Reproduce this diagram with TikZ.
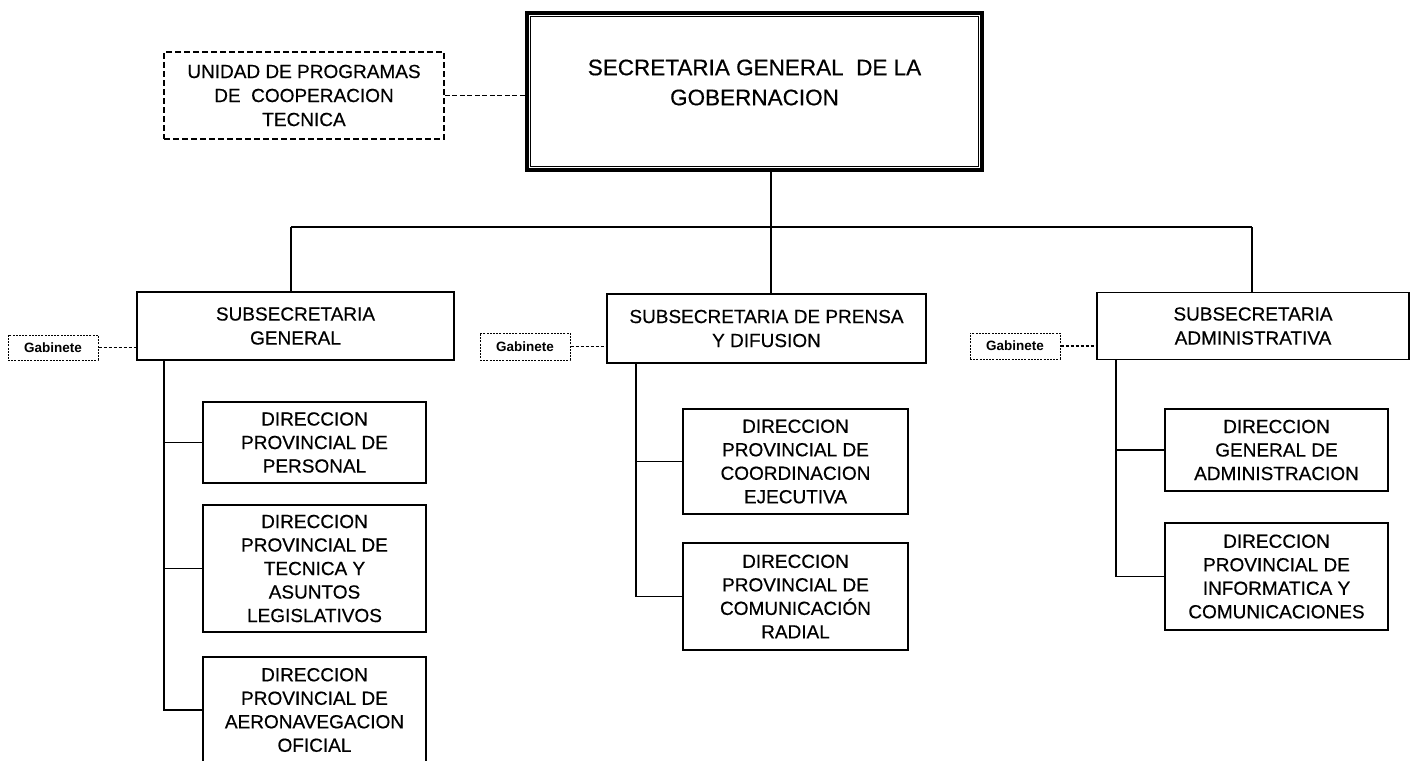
\documentclass[tikz,border=0pt]{standalone}
\usepackage{fontspec}
\setmainfont{Liberation Sans}
\newfontfamily\scanfont{Liberation Sans}[FakeBold=0.45]
\begin{document}
\begin{tikzpicture}[x=1pt,y=-1pt,
  basebox/.style={draw, line width=1.6pt, align=center, inner sep=0pt, anchor=center},
  topbox/.style={basebox, line width=3.6pt, minimum width=455pt, minimum height=157pt},
  toptext/.style={align=center, inner sep=0pt, font=\scanfont\fontsize{22.5}{30}\selectfont},
  unitbox/.style={basebox, dash pattern=on 6pt off 3pt, line width=1.5pt,
    minimum width=280pt, minimum height=87pt, font=\scanfont\fontsize{19}{24}\selectfont},
  subbox/.style={basebox, line width=1.8pt, minimum height=68pt, font=\scanfont\fontsize{19}{24}\selectfont},
  dirbox/.style={basebox, line width=1.7pt, font=\scanfont\fontsize{19}{23.5}\selectfont},
  gabbox/.style={basebox, line width=1pt, dash pattern=on 2pt off 1.2pt,
    minimum width=90pt, minimum height=26pt, font=\bfseries\fontsize{13.5}{15}\selectfont},
  conn/.style={line width=1.5pt},
  dconn/.style={line width=1.3pt, dash pattern=on 3pt off 2pt}
]
\useasboundingbox (0,0) rectangle (1410,760);
\clip (0,0) rectangle (1410,760);
\fill[white] (0,0) rectangle (1410,760);

% top level
\node[topbox] (top) at (754.5,91.5) {};
\draw[line width=1.1pt] ([shift={(5.5,5.5)}]top.north west) rectangle ([shift={(-5.5,-5.5)}]top.south east);
\node[toptext, yshift=9pt] (toptitle) at (top.center) {SECRETARIA GENERAL\ \ DE LA\\GOBERNACION};
\node[unitbox] (unidad) at (304,95.5) {UNIDAD DE PROGRAMAS\\DE\ \ COOPERACION\\TECNICA};
\draw[dconn, dash pattern=on 5pt off 2.5pt] (unidad.east) -- (unidad.east -| top.west);

% subsecretarias
\node[subbox, minimum width=317pt] (sg) at (295.5,326) {SUBSECRETARIA\\GENERAL};
\node[subbox, minimum width=319pt, minimum height=69pt] (sp) at (766.5,328.5) {SUBSECRETARIA DE PRENSA\\Y DIFUSION};
\node[subbox, minimum width=312pt, minimum height=67pt] (sa) at (1253,326) {SUBSECRETARIA\\ADMINISTRATIVA};

% gabinetes
\node[gabbox, minimum height=25pt] (g1) at (53,347.5) {Gabinete};
\node[gabbox, minimum height=27pt] (g2) at (525,346.5) {Gabinete};
\node[gabbox] (g3) at (1015,346) {Gabinete};
\draw[dconn] (g1.east) -- (g1.east -| sg.west);
\draw[dconn] (g2.east) -- (g2.east -| sp.west);
\draw[dconn] (g3.east) -- (g3.east -| sa.west);

% bus
\coordinate (busL) at (291,227);
\coordinate (busM) at (771,227);
\coordinate (busR) at (1252,227);
\draw[conn] (top.south -| busM) -- (busM);
\draw[conn] (busL) -- (busR);
\draw[conn] (busL) -- (busL |- sg.north);
\draw[conn] (busM) -- (busM |- sp.north);
\draw[conn] (busR) -- (busR |- sa.north);

% left column
\node[dirbox, minimum width=223pt, minimum height=81pt] (l1) at (314.5,442.5) {DIRECCION\\PROVINCIAL DE\\PERSONAL};
\node[dirbox, minimum width=223pt, minimum height=127pt] (l2) at (314.5,568.5) {DIRECCION\\PROVINCIAL DE\\TECNICA Y\\ASUNTOS\\LEGISLATIVOS};
\node[dirbox, minimum width=223pt, minimum height=106pt] (l3) at (314.5,710) {DIRECCION\\PROVINCIAL DE\\AERONAVEGACION\\OFICIAL};
\coordinate (tl) at (164,0);
\draw[conn] (sg.south -| tl) -- (tl |- l3.west) -- (l3.west);
\draw[conn] (tl |- l1.west) -- (l1.west);
\draw[conn] (tl |- l2.west) -- (l2.west);

% middle column
\node[dirbox, minimum width=225pt, minimum height=105pt] (m1) at (795.5,461.5) {DIRECCION\\PROVINCIAL DE\\COORDINACION\\EJECUTIVA};
\node[dirbox, minimum width=225pt, minimum height=107pt] (m2) at (795.5,596.5) {DIRECCION\\PROVINCIAL DE\\COMUNICACIÓN\\RADIAL};
\coordinate (tm) at (636,0);
\draw[conn] (sp.south -| tm) -- (tm |- m2.west) -- (m2.west);
\draw[conn] (tm |- m1.west) -- (m1.west);

% right column
\node[dirbox, minimum width=223pt, minimum height=82pt] (r1) at (1276.5,450) {DIRECCION\\GENERAL DE\\ADMINISTRACION};
\node[dirbox, minimum width=223pt, minimum height=107pt] (r2) at (1276.5,576.5) {DIRECCION\\PROVINCIAL DE\\INFORMATICA Y\\COMUNICACIONES};
\coordinate (tr) at (1116,0);
\draw[conn] (sa.south -| tr) -- (tr |- r2.west) -- (r2.west);
\draw[conn] (tr |- r1.west) -- (r1.west);
\end{tikzpicture}
\end{document}
